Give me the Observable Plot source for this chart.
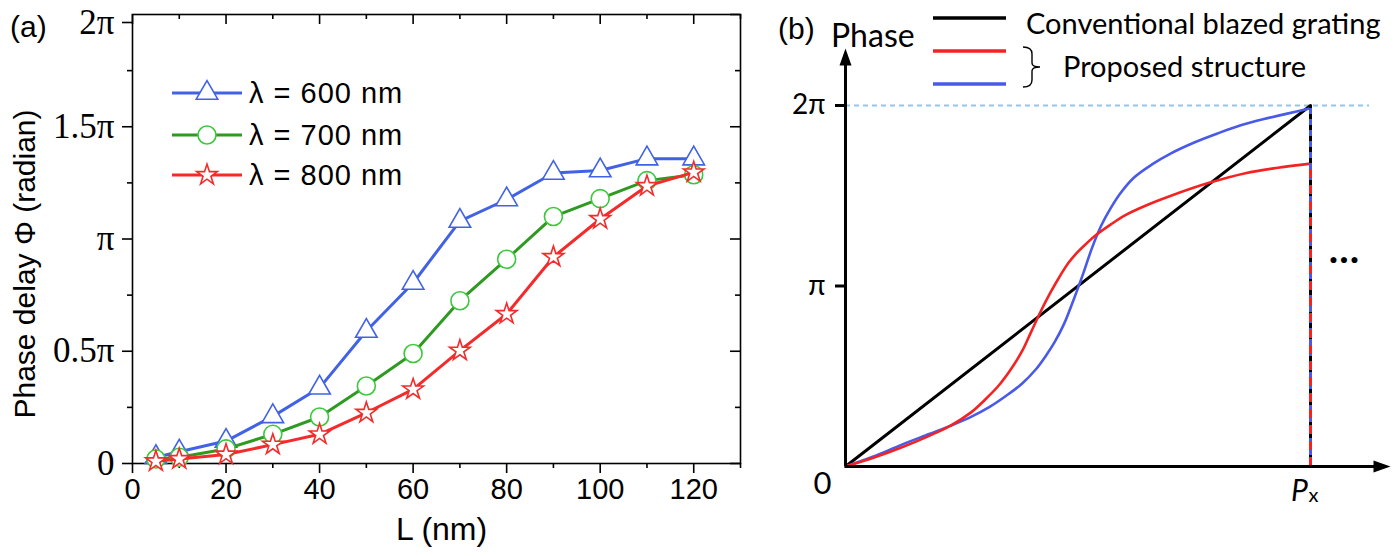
<!DOCTYPE html>
<html><head><meta charset="utf-8">
<script src="https://cdn.jsdelivr.net/npm/d3@7"></script>
<script src="https://cdn.jsdelivr.net/npm/@observablehq/plot@0.6"></script>
<style>
html,body{margin:0;padding:0;background:#fff;}
#root{position:relative;width:1395px;height:556px;overflow:hidden;background:#fff;}
.panel{position:absolute;top:0;height:556px;}
.panel svg.ov{position:absolute;left:0;top:0;pointer-events:none;}
</style></head><body>
<div id="root"><div id="pa" class="panel" style="left:0;width:760px"></div><div id="pb" class="panel" style="left:760px;width:635px"></div></div>
<script>
// ---------- Panel (a) data ----------
const lengths  = [5, 10, 20, 30, 40, 50, 60, 70, 80, 90, 100, 110, 120];
const phase600 = [0.028, 0.052, 0.10, 0.21, 0.337, 0.59, 0.804, 1.08, 1.176, 1.294, 1.305, 1.358, 1.358];
const phase700 = [0.02, 0.028, 0.065, 0.13, 0.207, 0.345, 0.49, 0.725, 0.91, 1.10, 1.18, 1.26, 1.286];
const phase800 = [0.01, 0.02, 0.04, 0.084, 0.13, 0.226, 0.33, 0.503, 0.666, 0.92, 1.089, 1.236, 1.297];
const seriesNames   = ["λ = 600 nm", "λ = 700 nm", "λ = 800 nm"];
const seriesColors  = ["#4262e6", "#2f9a22", "#f52a2a"];
const markerColors  = ["#4262e6", "#3cc83c", "#f52a2a"];
const seriesSymbols = ["triangle", "circle", "star"];
const xMajorTicks = [0, 20, 40, 60, 80, 100, 120];
const xMinorTicks = [10, 30, 50, 70, 90, 110, 130];
const yMajorTicks = [0, 0.5, 1, 1.5, 2];
const yTickLabels = ["0", "0.5π", "π", "1.5π", "2π"];
const yMinorTicks = [0.25, 0.75, 1.25, 1.75];
const xLabelA = "L (nm)";
const yLabelA = "Phase delay Φ (radian)";

// ---------- Panel (b) data (x in units of Px, y in units of π) ----------
const blazedX = [0, 1];
const blazedY = [0, 2];
const blueX = [0, 0.06, 0.12, 0.18, 0.225, 0.27, 0.31, 0.35, 0.38, 0.41, 0.43, 0.45, 0.47, 0.49, 0.51, 0.53, 0.55, 0.57, 0.59, 0.62, 0.66, 0.70, 0.75, 0.80, 0.85, 0.90, 0.95, 1.0];
const blueY = [0, 0.055, 0.12, 0.18, 0.225, 0.275, 0.33, 0.40, 0.46, 0.54, 0.61, 0.69, 0.79, 0.92, 1.06, 1.21, 1.335, 1.43, 1.51, 1.60, 1.675, 1.735, 1.795, 1.845, 1.89, 1.925, 1.955, 1.985];
const redX = [0, 0.06, 0.12, 0.18, 0.225, 0.27, 0.30, 0.33, 0.356, 0.38, 0.40, 0.42, 0.44, 0.46, 0.48, 0.50, 0.52, 0.54, 0.57, 0.60, 0.65, 0.70, 0.78, 0.86, 0.93, 1.0];
const redY = [0, 0.048, 0.105, 0.17, 0.225, 0.30, 0.37, 0.45, 0.54, 0.64, 0.75, 0.86, 0.96, 1.05, 1.13, 1.19, 1.24, 1.285, 1.34, 1.39, 1.45, 1.50, 1.57, 1.625, 1.655, 1.678];
const bTicks = [1, 2];
const bTickLabels = ["π", "2π"];
const bLegend = ["Conventional blazed grating", "Proposed structure"];

const SANS = "'Liberation Sans', Arial, sans-serif";
const NARROW = "'Liberation Sans Narrow', 'Liberation Sans', Arial, sans-serif";
const SERIF = "'Liberation Serif', 'Times New Roman', serif";
const CAL = "Lato, 'Open Sans', sans-serif";

// ---------- Panel (a) ----------
const seriesVals = [phase600, phase700, phase800];
const rowsA = seriesVals.map((vals, i) => lengths.map((L, j) => ({L, phase: vals[j], s: seriesNames[i]})));
const WA = 760, HA = 556, mL = 132, mR = 20, mT = 14, mB = 93;
const innerW = WA - mL - mR, innerH = HA - mT - mB;
const yLab = d => yTickLabels[yMajorTicks.indexOf(d)];
const topTick = yMajorTicks[yMajorTicks.length - 1];

const marksA = [
  Plot.frame({stroke: "black", strokeWidth: 1.6}),
  Plot.axisX({ticks: xMajorTicks, tickSize: 10, tickPadding: 5, tickFormat: d => String(d), fontSize: 29, fontFamily: NARROW, strokeWidth: 1.6, label: null}),
  Plot.axisX({ticks: xMinorTicks, tickSize: 5, tickFormat: () => "", strokeWidth: 1.6, label: null}),
  Plot.axisY({ticks: yMajorTicks.filter(d => d !== topTick), tickSize: 10, tickPadding: 8, tickFormat: yLab, fontSize: 35, fontFamily: SERIF, strokeWidth: 1.6, label: null}),
  Plot.axisY({ticks: [topTick], tickSize: 10, tickPadding: 8, tickFormat: yLab, fontSize: 35, fontFamily: SERIF, strokeWidth: 1.6, dy: 8, label: null}),
  Plot.axisY({ticks: yMinorTicks, tickSize: 5, tickFormat: () => "", strokeWidth: 1.6, label: null}),
  Plot.tickX(xMajorTicks, {x: d => d, insetBottom: innerH - 10, strokeWidth: 1.6}),
  Plot.tickX(xMinorTicks, {x: d => d, insetBottom: innerH - 5, strokeWidth: 1.6}),
  Plot.tickY(yMajorTicks, {y: d => d, insetLeft: innerW - 10, strokeWidth: 1.6}),
  Plot.tickY(yMinorTicks, {y: d => d, insetLeft: innerW - 5, strokeWidth: 1.6}),
  Plot.text([xLabelA], {frameAnchor: "bottom", dx: 5, dy: 76, text: d => d, fontSize: 32, fontFamily: SANS}),
  Plot.text([yLabelA], {frameAnchor: "left", textAnchor: "middle", dx: -107, dy: 25, rotate: -90, text: d => d, fontSize: 30, fontFamily: SANS})
];
rowsA.forEach((rows, i) => {
  marksA.push(Plot.line(rows, {x: "L", y: "phase", stroke: seriesColors[i], strokeWidth: 3}));
  marksA.push(Plot.dot(rows, {x: "L", y: "phase", symbol: seriesSymbols[i], r: seriesSymbols[i] === "triangle" ? 8 : seriesSymbols[i] === "circle" ? 9 : 6.5, stroke: markerColors[i], fill: "white", strokeWidth: 1.6}));
});

const plotA = Plot.plot({
  width: WA, height: HA, marginLeft: mL, marginRight: mR, marginTop: mT, marginBottom: mB,
  x: {domain: [0, 130], axis: null}, y: {domain: [0, 2], axis: null},
  style: {background: "transparent", color: "black", overflow: "visible"},
  marks: marksA
});
document.getElementById("pa").appendChild(plotA);

// legend + panel tag for (a)
const ovA = d3.select("#pa").append("svg").attr("class", "ov").attr("width", WA).attr("height", HA);
ovA.append("text").attr("x", 10).attr("y", 26).attr("dy", "0.35em").attr("font-size", 30).attr("font-family", SANS).text("(a)");
const legRowsY = [93, 135, 175];
seriesNames.forEach((name, i) => {
  const g = ovA.append("g").attr("transform", `translate(0,${legRowsY[i]})`);
  g.append("line").attr("x1", 172).attr("x2", 242).attr("y1", 0).attr("y2", 0).attr("stroke", seriesColors[i]).attr("stroke-width", 3);
  const r = seriesSymbols[i] === "triangle" ? 8 : seriesSymbols[i] === "circle" ? 9 : 6.5;
  const sym = {triangle: d3.symbolTriangle, circle: d3.symbolCircle, star: d3.symbolStar}[seriesSymbols[i]];
  g.append("path").attr("transform", "translate(207,0)").attr("d", d3.symbol(sym, Math.PI * r * r)()).attr("fill", "white").attr("stroke", markerColors[i]).attr("stroke-width", 1.6);
  g.append("text").attr("x", 249).attr("y", 0).attr("dy", "0.36em").attr("font-size", 29).attr("letter-spacing", 1).attr("font-family", SANS).text(name);
});

// ---------- Panel (b) ----------
const WB = 635, HB = 556, bL = 85, bR = 5, bT = 48, bBm = 90;
const pxUnit = 465, piUnit = 180.5;
const bXMax = (WB - bL - bR) / pxUnit;
const bYMax = (HB - bT - bBm) / piUnit;
const dashEnd = 1.127;
const redEnd = redY[redY.length - 1];
const toRows = (xs, ys) => xs.map((x, i) => ({x, y: ys[i]}));
const arrowUp = {draw(ctx) { ctx.moveTo(0, 0); ctx.lineTo(-6, 17); ctx.lineTo(6, 17); ctx.closePath(); }};
const arrowRight = {draw(ctx) { ctx.moveTo(0, 0); ctx.lineTo(-17, -6); ctx.lineTo(-17, 6); ctx.closePath(); }};

const plotB = Plot.plot({
  width: WB, height: HB, marginLeft: bL, marginRight: bR, marginTop: bT, marginBottom: bBm,
  x: {domain: [0, bXMax], axis: null}, y: {domain: [0, bYMax], axis: null},
  style: {background: "transparent", color: "black", overflow: "visible"},
  marks: [
    Plot.ruleY([2], {x1: 0, x2: dashEnd, stroke: "#93c5ea", strokeWidth: 2, strokeDasharray: "5,4"}),
    Plot.line(toRows(blazedX, blazedY), {x: "x", y: "y", stroke: "black", strokeWidth: 3}),
    Plot.line(toRows(blueX, blueY), {x: "x", y: "y", stroke: "#4a5ae8", strokeWidth: 2.6, curve: "catmull-rom"}),
    Plot.line(toRows(redX, redY), {x: "x", y: "y", stroke: "#f52222", strokeWidth: 2.6, curve: "catmull-rom"}),
    Plot.ruleX([1], {y1: 0, y2: 2, stroke: "black", strokeWidth: 3}),
    Plot.ruleX([1], {y1: 0, y2: 2, stroke: "#4a5ae8", strokeWidth: 3, strokeDasharray: "6,5"}),
    Plot.ruleX([1], {y1: 0, y2: redEnd, stroke: "#f52222", strokeWidth: 3, strokeDasharray: "9,7"}),
    Plot.ruleX([0], {y1: 0, y2: bYMax - 0.05, stroke: "black", strokeWidth: 3}),
    Plot.ruleY([0], {x1: 0, x2: bXMax - 0.02, stroke: "black", strokeWidth: 3}),
    Plot.dot([bYMax], {x: 0, y: d => d, symbol: arrowUp, fill: "black", stroke: null}),
    Plot.dot([bXMax], {x: d => d, y: 0, symbol: arrowRight, fill: "black", stroke: null}),
    Plot.axisY({ticks: bTicks, tickSize: 10, tickPadding: 10, tickFormat: d => bTickLabels[bTicks.indexOf(d)], fontSize: 28, fontFamily: CAL, strokeWidth: 3, label: null}),
    Plot.text([0], {x: 0, y: 0, text: () => "0", dx: -23, dy: 18, fontSize: 31, fontFamily: CAL}),
    Plot.text([1], {x: d => d, y: 0, text: () => "P", dx: -11, dy: 25, fontSize: 30, fontStyle: "italic", fontFamily: CAL}),
    Plot.text([1], {x: d => d, y: 0, text: () => "x", dx: 3, dy: 29, fontSize: 20, fontFamily: CAL})
  ]
});
document.getElementById("pb").appendChild(plotB);

const ovB = d3.select("#pb").append("svg").attr("class", "ov").attr("width", WB).attr("height", HB);
ovB.append("text").attr("x", 18).attr("y", 28).attr("dy", "0.35em").attr("font-size", 30).attr("font-family", SANS).text("(b)");
ovB.append("text").attr("x", 71).attr("y", 36).attr("dy", "0.35em").attr("font-size", 32).attr("font-family", CAL).text("Phase");
[["black", 18], ["#f52222", 51], ["#4a5ae8", 84]].forEach(([c, y]) => {
  ovB.append("line").attr("x1", 173).attr("x2", 246).attr("y1", y).attr("y2", y).attr("stroke", c).attr("stroke-width", 3.5);
});
ovB.append("text").attr("x", 266).attr("y", 24).attr("dy", "0.35em").attr("font-size", 29).attr("font-family", CAL).text(bLegend[0]);
ovB.append("path").attr("d", "M263,47 q9,0 9,7 v9 q0,4 8,4 q-8,0 -8,4 v9 q0,7 -9,7").attr("fill", "none").attr("stroke", "black").attr("stroke-width", 1.4);
ovB.append("text").attr("x", 303).attr("y", 67).attr("dy", "0.35em").attr("font-size", 29).attr("font-family", CAL).text(bLegend[1]);
ovB.append("text").attr("x", 585).attr("y", 259).attr("dy", "0.35em").attr("text-anchor", "middle").attr("font-size", 14).attr("font-weight", "bold").attr("letter-spacing", 2).attr("font-family", SANS).text("●●●");
</script>
</body></html>
